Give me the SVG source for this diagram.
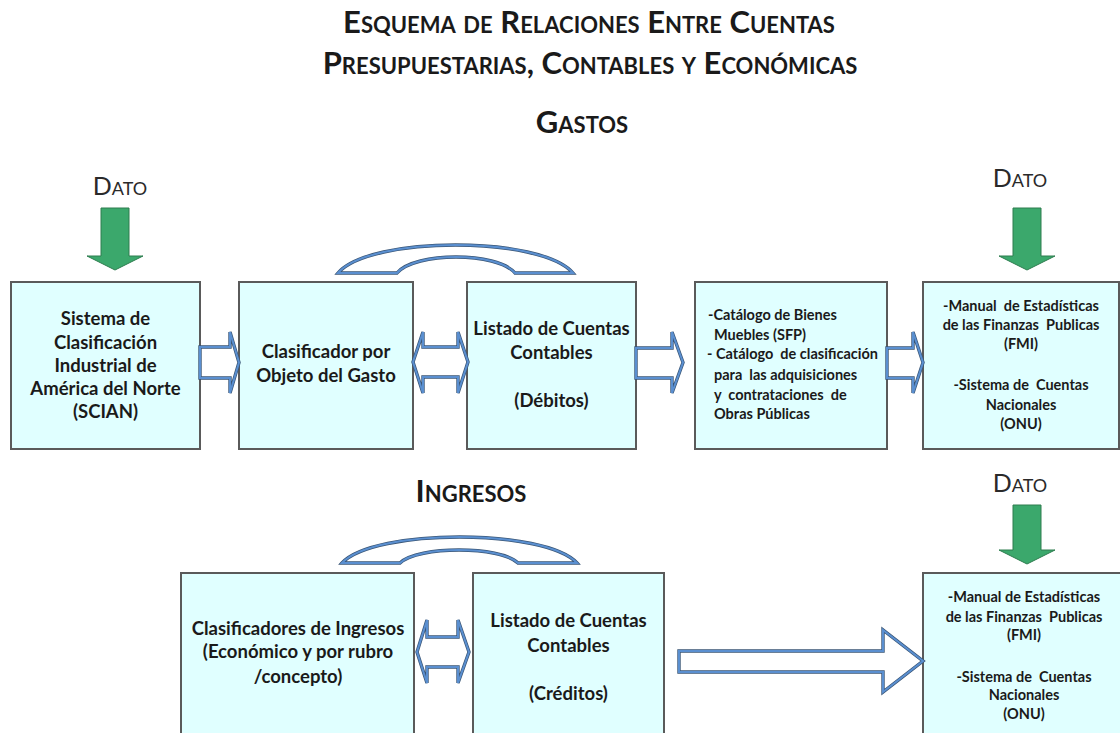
<svg xmlns="http://www.w3.org/2000/svg" xmlns:xlink="http://www.w3.org/1999/xlink" width="1120" height="733" viewBox="0 0 1120 733">
<style>
.bg{fill:#ffffff}
.box{fill:#E0FFFF;stroke:#5a5a5a;stroke-width:2}
.t{font-family:Lato,"Open Sans","Liberation Sans",sans-serif;font-weight:bold;fill:#1a1a1a;text-anchor:middle;font-size:18.5px}
.s{font-size:14.5px;white-space:pre}
.l{text-anchor:start}
.h{font-family:Lato,"Open Sans","Liberation Sans",sans-serif;font-weight:bold;fill:#1a1a1a;text-anchor:middle;font-size:31px;font-variant:small-caps}
.d{font-family:Lato,"Open Sans","Liberation Sans",sans-serif;font-weight:normal;fill:#2a2a2a;text-anchor:middle;font-size:25px;font-variant:small-caps}
.ba1{fill:#ffffff;stroke:#3a5676;stroke-width:3.4;stroke-linejoin:miter}
.ba2{fill:none;stroke:#5a8fd0;stroke-width:2;stroke-linejoin:miter}
.g{fill:#3BA86C;stroke:#2E7D4F;stroke-width:1}
</style>
<defs>
<path id="a1" d="M200,347 H230 V332 L239,362.5 L230,393 V378 H200 Z"/>
<path id="a2" d="M413,362 L423,332 V347 H458 V332 L468,362 L458,393 V377 H423 V393 Z"/>
<path id="a3" d="M636,348 H672 V332 L683,362.5 L672,393 V378 H636 Z"/>
<path id="a4" d="M887,348 H913 V332 L923,362.5 L913,393 V378 H887 Z"/>
<path id="a5" d="M417,652 L427,620 V637 H458 V620 L469,652 L458,683 V667 H427 V683 Z"/>
<path id="a6" d="M679,651 H883 V630 L923,661 L883,692 V672 H679 Z"/>
<path id="arc1" d="M338,273 C370,235.7 541,235.7 573,273 H515 C497,251.7 415,251.7 397,273 Z"/>
<path id="arc2" d="M342,563 C374,528.3 545,528.3 577,563 H518 C500,545.7 418,545.7 400,563 Z"/>
</defs>
<rect class="bg" x="0" y="0" width="1120" height="733"/>

<g id="titles">
<text class="h" x="589" y="33">Esquema de Relaciones Entre Cuentas</text>
<text class="h" x="590" y="74">Presupuestarias, Contables y Económicas</text>
<text class="h" x="582" y="133">Gastos</text>
<text class="h" x="471" y="502">Ingresos</text>
<text class="d" x="120" y="195">Dato</text>
<text class="d" x="1020" y="187">Dato</text>
<text class="d" x="1020" y="492">Dato</text>
</g>

<g id="connectors">
<path class="g" d="M101,208 H129 V256 H143 L115,270 L87,256 H101 Z"/>
<path class="g" d="M1013,208 H1041 V256 H1055 L1027,270 L999,256 H1013 Z"/>
<path class="g" d="M1013,505 H1041 V550 H1055 L1027,564 L999,550 H1013 Z"/>
<use xlink:href="#arc1" class="ba1"/><use xlink:href="#arc1" class="ba2"/>
<use xlink:href="#arc2" class="ba1"/><use xlink:href="#arc2" class="ba2"/>
</g>

<g id="scian">
<rect class="box" x="11" y="282" width="189" height="167"/>
<text class="t" x="105.5" y="325">Sistema de</text>
<text class="t" x="105.5" y="349">Clasificación</text>
<text class="t" x="105.5" y="372">Industrial de</text>
<text class="t" x="105.5" y="395">América del Norte</text>
<text class="t" x="105.5" y="418">(SCIAN)</text>
</g>

<g id="cog">
<rect class="box" x="239" y="282" width="174" height="167"/>
<text class="t" x="326" y="358">Clasificador por</text>
<text class="t" x="326" y="382">Objeto del Gasto</text>
</g>

<g id="debitos">
<rect class="box" x="467" y="282" width="169" height="167"/>
<text class="t" x="551.5" y="335">Listado de Cuentas</text>
<text class="t" x="551.5" y="359">Contables</text>
<text class="t" x="551.5" y="407">(Débitos)</text>
</g>

<g id="catalogos">
<rect class="box" x="695" y="282" width="192" height="167"/>
<text class="t s l" x="708" y="320">-Catálogo de Bienes</text>
<text class="t s l" x="714" y="340">Muebles (SFP)</text>
<text class="t s l" x="707" y="359">- Catálogo  de clasificación</text>
<text class="t s l" x="714" y="380">para  las adquisiciones</text>
<text class="t s l" x="714" y="400">y  contrataciones  de</text>
<text class="t s l" x="714" y="419">Obras Públicas</text>
</g>

<g id="manual-gastos">
<rect class="box" x="923" y="282" width="196" height="167"/>
<text class="t s" x="1021" y="311">-Manual  de Estadísticas</text>
<text class="t s" x="1021" y="330">de las Finanzas  Publicas</text>
<text class="t s" x="1021" y="349">(FMI)</text>
<text class="t s" x="1021" y="390">-Sistema de  Cuentas</text>
<text class="t s" x="1021" y="410">Nacionales</text>
<text class="t s" x="1021" y="429">(ONU)</text>
</g>

<g id="ingresos">
<rect class="box" x="181" y="573" width="233" height="170"/>
<text class="t" x="298" y="635">Clasificadores de Ingresos</text>
<text class="t" x="298" y="658">(Económico y por rubro</text>
<text class="t" x="298" y="683">/concepto)</text>
</g>

<g id="creditos">
<rect class="box" x="473" y="573" width="191" height="170"/>
<text class="t" x="568.5" y="627">Listado de Cuentas</text>
<text class="t" x="568.5" y="652">Contables</text>
<text class="t" x="568.5" y="700">(Créditos)</text>
</g>

<g id="manual-ingresos">
<rect class="box" x="923" y="573" width="202" height="170"/>
<text class="t s" x="1024" y="602">-Manual de Estadísticas</text>
<text class="t s" x="1024" y="622">de las Finanzas  Publicas</text>
<text class="t s" x="1024" y="640">(FMI)</text>
<text class="t s" x="1024" y="682">-Sistema de  Cuentas</text>
<text class="t s" x="1024" y="700">Nacionales</text>
<text class="t s" x="1024" y="719">(ONU)</text>
</g>

<g id="block-arrows">
<use xlink:href="#a1" class="ba1"/><use xlink:href="#a1" class="ba2"/>
<use xlink:href="#a2" class="ba1"/><use xlink:href="#a2" class="ba2"/>
<use xlink:href="#a3" class="ba1"/><use xlink:href="#a3" class="ba2"/>
<use xlink:href="#a4" class="ba1"/><use xlink:href="#a4" class="ba2"/>
<use xlink:href="#a5" class="ba1"/><use xlink:href="#a5" class="ba2"/>
<use xlink:href="#a6" class="ba1"/><use xlink:href="#a6" class="ba2"/>
</g>
</svg>
